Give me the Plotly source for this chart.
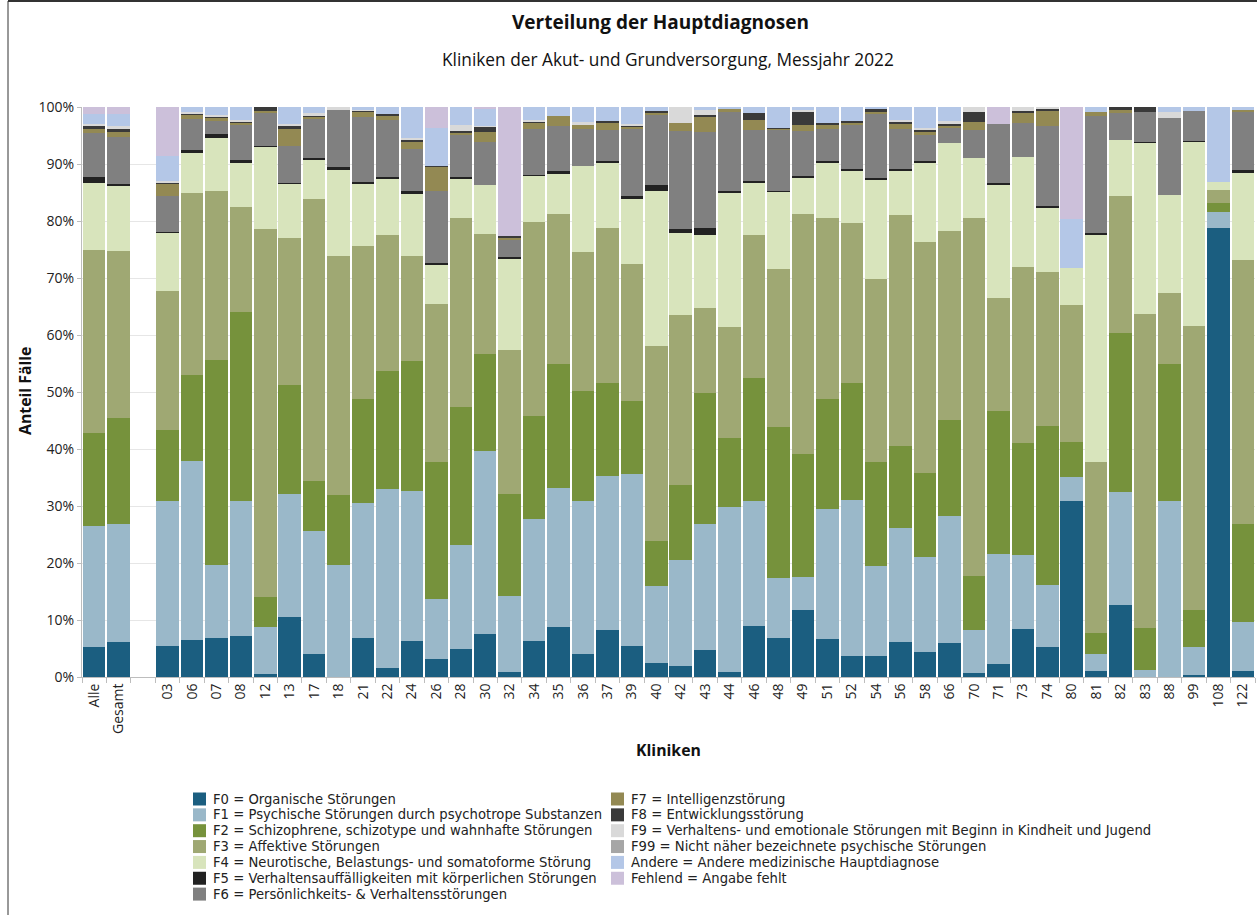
import plotly.graph_objects as go

kliniken = ["Alle", "Gesamt", " ", "03", "06", "07", "08", "12", "13", "17", "18", "21", "22", "24",
            "26", "28", "30", "32", "34", "35", "36", "37", "39", "40", "42", "43", "44", "46", "48",
            "49", "51", "52", "54", "56", "58", "66", "70", "71", "73", "74", "80", "81", "82", "83",
            "88", "99", "108", "122"]

f0 = [5.3, 6.1, None, 5.4, 6.5, 6.9, 7.2, 0.5, 10.6, 4.1, 0, 6.8, 1.6, 6.3, 3.2, 4.9, 7.6, 0.8, 6.4, 8.7, 4.0, 8.3, 5.4, 2.4,
      2.0, 4.8, 0.8, 8.9, 6.9, 11.7, 6.7, 3.6, 3.6, 6.1, 4.3, 6.0, 0.7, 2.2, 8.4, 5.2, 30.8, 1.0, 12.7, 0, 0, 0.3, 78.7, 1.1]
f1 = [21.2, 20.7, None, 25.5, 31.4, 12.7, 23.6, 8.3, 21.5, 21.5, 19.7, 23.7, 31.4, 26.4, 10.4, 18.3, 32.0, 13.4, 21.4, 24.4,
      26.8, 26.9, 30.2, 13.5, 18.5, 22.0, 29.1, 22.0, 10.4, 5.9, 22.7, 27.4, 15.9, 20.1, 16.8, 22.2, 7.6, 19.4, 13.0, 10.9,
      4.3, 3.1, 19.8, 1.3, 30.8, 4.9, 2.8, 8.5]
f2 = [16.3, 18.7, None, 12.4, 15.1, 36.0, 33.3, 5.3, 19.2, 8.7, 12.3, 18.2, 20.7, 22.8, 24.1, 24.1, 17.0, 17.9, 18.0, 21.8,
      19.4, 16.3, 12.9, 8.0, 13.2, 23.1, 12.1, 21.5, 26.6, 21.5, 19.3, 20.5, 18.2, 14.3, 14.7, 16.9, 9.5, 25.0, 19.6, 27.9,
      6.1, 3.6, 27.8, 7.3, 24.1, 6.5, 1.7, 17.2]
f3 = [32.2, 29.2, None, 24.5, 32.0, 29.6, 18.4, 64.5, 25.7, 49.5, 41.9, 26.9, 23.9, 18.4, 27.7, 33.2, 21.2, 25.2, 34.1, 26.4,
      24.4, 27.2, 23.9, 34.1, 29.8, 14.9, 19.4, 25.2, 27.6, 42.2, 31.9, 28.1, 32.1, 40.6, 40.5, 33.2, 62.8, 19.9, 30.9, 27.0,
      24.1, 30.0, 24.1, 55.1, 12.5, 49.8, 2.3, 46.4]
f4 = [11.7, 11.6, None, 10.1, 7.0, 9.4, 7.7, 14.4, 9.5, 7.0, 15.0, 10.9, 9.7, 11.0, 7.0, 7.0, 8.6, 16.1, 8.0, 7.0,
      15.0, 11.4, 11.5, 27.2, 14.4, 12.7, 23.5, 9.2, 13.7, 6.2, 9.7, 9.3, 17.5, 7.8, 14.0, 15.4, 10.4, 19.9, 19.3, 11.4,
      6.4, 39.9, 9.8, 30.0, 17.2, 32.4, 1.3, 15.3]
f5 = [1.0, 0.2, None, 0.2, 0.4, 0.6, 0.5, 0.2, 0.2, 0.2, 0.5, 0.4, 0.4, 0.3, 0.3, 0.3, 0, 0.3, 0.2, 0.4,
      0, 0.5, 0.4, 1.2, 0.7, 1.3, 0.4, 0.2, 0.1, 0.4, 0.2, 0.3, 0.3, 0.2, 0.3, 0, 0, 0.2, 0, 0.2,
      0, 0.3, 0, 0.2, 0, 0.2, 0, 0.4]
f6 = [7.7, 8.2, None, 6.2, 5.5, 2.4, 6.1, 5.9, 6.4, 7.0, 10.1, 11.3, 10.1, 7.4, 12.5, 7.3, 7.5, 3.0, 8.1, 7.9,
      6.6, 5.4, 11.9, 12.3, 17.2, 16.8, 13.8, 9.0, 10.7, 7.9, 5.7, 7.6, 11.1, 7.1, 4.5, 2.7, 5.0, 10.4, 6.0, 14.1,
      0, 20.6, 4.8, 5.2, 13.5, 5.2, 0, 10.3]
f7 = [0.9, 1.0, None, 2.2, 0.8, 0.6, 0.4, 0.2, 3.1, 0.3, 0, 1.0, 0.7, 1.3, 4.4, 0.4, 1.8, 0.3, 1.0, 1.9,
      0.6, 1.3, 0.3, 0.2, 1.4, 2.8, 0.7, 1.8, 0.3, 1.1, 0.8, 0.5, 0.4, 0.9, 0.5, 0.4, 1.3, 0, 1.7, 2.6,
      0, 0.6, 0.5, 0, 0, 0, 0, 0.3]
f8 = [0.3, 0.5, None, 0.3, 0.2, 0.2, 0.2, 0.7, 0.4, 0.1, 0, 0.2, 0.3, 0.4, 0.1, 0.3, 0.8, 0.4, 0.2, 0,
      0, 0.3, 0.2, 0.4, 0, 0.2, 0, 1.1, 0.1, 2.2, 0.2, 0.2, 0.7, 0.3, 0.4, 0.2, 1.8, 0, 0.4, 0.4,
      0, 0, 0.5, 0.9, 0, 0, 0, 0]
f9 = [0.4, 0.4, None, 0.2, 0.2, 0.2, 0.4, 0, 0.4, 0.5, 0.5, 0.1, 0, 0.2, 0, 1.0, 0.2, 0, 0.4, 0,
      0.6, 0, 0.4, 0, 2.8, 0.9, 0, 0, 0, 0.4, 0, 0, 0, 0.3, 0.3, 0.5, 0.9, 0, 0.7, 0.3,
      0, 0, 0, 0, 1.0, 0, 0, 0]
f99 = [0, 0, None] + [0] * 45
andere = [1.8, 2.1, None, 4.4, 0.9, 1.4, 2.2, 0, 3.0, 1.1, 0, 0.5, 1.2, 5.5, 6.7, 3.2, 2.9, 0, 2.2, 1.5,
          2.6, 2.4, 2.9, 0.7, 0, 0.5, 0.2, 1.1, 3.6, 0.5, 2.8, 2.5, 0.2, 2.3, 3.7, 2.5, 0, 0, 0, 0,
          8.7, 0.9, 0, 0, 0.9, 0.7, 13.2, 0.5]
fehlend = [1.2, 1.3, None, 8.6, 0, 0, 0, 0, 0, 0, 0, 0, 0, 0, 3.6, 0, 0.4, 22.6, 0, 0,
           0, 0, 0, 0, 0, 0, 0, 0, 0, 0, 0, 0, 0, 0, 0, 0, 0, 3.0, 0, 0,
           19.6, 0, 0, 0, 0, 0, 0, 0]

series_names = [
    "F0 = Organische Störungen",
    "F1 = Psychische Störungen durch psychotrope Substanzen",
    "F2 = Schizophrene, schizotype und wahnhafte Störungen",
    "F3 = Affektive Störungen",
    "F4 = Neurotische, Belastungs- und somatoforme Störung",
    "F5 = Verhaltensauffälligkeiten mit körperlichen Störungen",
    "F6 = Persönlichkeits- & Verhaltensstörungen",
    "F7 = Intelligenzstörung",
    "F8 = Entwicklungsstörung",
    "F9 = Verhaltens- und emotionale Störungen mit Beginn in Kindheit und Jugend",
    "F99 = Nicht näher bezeichnete psychische Störungen",
    "Andere = Andere medizinische Hauptdiagnose",
    "Fehlend = Angabe fehlt",
]
series_values = [f0, f1, f2, f3, f4, f5, f6, f7, f8, f9, f99, andere, fehlend]
series_colors = ["#1B5E80", "#9AB8C9", "#76923C", "#9FA873", "#D8E4BC", "#222222", "#808080",
                 "#938953", "#3A3A3A", "#D9D9D9", "#A6A6A6", "#B4C7E7", "#CCC0DA"]

FONT = "Open Sans"
LEGEND_FONT = "DejaVu Sans"

fig = go.Figure()
for name, vals, col in zip(series_names, series_values, series_colors):
    fig.add_trace(go.Bar(
        x=kliniken, y=vals, name=name,
        marker=dict(color=col, line=dict(width=0)),
        showlegend=False,
        hovertemplate="%{x}: %{y:.1f}%<extra>" + name + "</extra>",
    ))

W, H = 1257, 915
L, R, T, B = 82, 2, 107, 238
pw, ph = W - L - R, H - T - B


def px(xp):
    return (xp - L) / pw


def py(yp):
    return (H - B - yp) / ph


shapes = [
    dict(type="line", xref="paper", yref="paper", x0=px(8), x1=px(1257), y0=py(1), y1=py(1),
         line=dict(color="#333333", width=2)),
    dict(type="line", xref="paper", yref="paper", x0=px(8), x1=px(8), y0=py(1), y1=py(915),
         line=dict(color="#333333", width=1)),
]
annotations = [
    dict(text="<b>Verteilung der Hauptdiagnosen</b>", x=px(660), y=py(22), xref="paper", yref="paper",
         showarrow=False, font=dict(family=FONT, size=19, color="#111111"), xanchor="center", yanchor="middle"),
    dict(text="Kliniken der Akut- und Grundversorgung, Messjahr 2022", x=px(668), y=py(60), xref="paper",
         yref="paper", showarrow=False, font=dict(family=FONT, size=17.3, color="#111111"),
         xanchor="center", yanchor="middle"),
    dict(text="<b>Anteil Fälle</b>", x=px(25), y=py(391), xref="paper", yref="paper", textangle=-90,
         showarrow=False, font=dict(family=FONT, size=15.8, color="#111111"), xanchor="center", yanchor="middle"),
    dict(text="<b>Kliniken</b>", x=px(668), y=py(750), xref="paper", yref="paper",
         showarrow=False, font=dict(family=FONT, size=15.8, color="#111111"), xanchor="center", yanchor="middle"),
]
# legend: two columns of colour swatches with their labels, as in the reference
row_step = 15.85
for i, (name, col) in enumerate(zip(series_names, series_colors)):
    colx = 193 if i < 7 else 611
    row = i if i < 7 else i - 7
    yc = 799 + row * row_step
    shapes.append(dict(type="rect", xref="paper", yref="paper",
                       x0=px(colx), x1=px(colx + 13), y0=py(yc - 6.5), y1=py(yc + 6.5),
                       fillcolor=col, line=dict(width=0)))
    annotations.append(dict(text=name, x=px(colx + 18), y=py(yc), xref="paper", yref="paper",
                            showarrow=False, xanchor="left", yanchor="middle", height=15, valign="middle",
                            font=dict(family=LEGEND_FONT, size=13.2, color="#222222")))

fig.update_layout(
    width=W, height=H,
    margin=dict(l=L, r=R, t=T, b=B, autoexpand=False),
    paper_bgcolor="white", plot_bgcolor="white",
    barmode="stack", bargap=0.08,
    font=dict(family=FONT, color="#222222"),
    showlegend=False,
    xaxis=dict(
        type="category", categoryorder="array", categoryarray=kliniken,
        tickangle=-90, tickfont=dict(family=FONT, size=14, color="#222222"),
        showline=True, linecolor="#BDBDBD", linewidth=1,
        ticks="outside", tickson="boundaries", ticklen=5, tickcolor="#BDBDBD",
        showgrid=False, automargin=False,
    ),
    yaxis=dict(
        range=[0, 100], dtick=10, ticksuffix="%",
        tickfont=dict(family=FONT, size=14, color="#222222"),
        showgrid=True, gridcolor="#E6E6E6", gridwidth=1,
        showline=True, linecolor="#BDBDBD", linewidth=1,
        ticks="outside", ticklen=4, tickcolor="#BDBDBD",
        zeroline=False, automargin=False,
    ),
    annotations=annotations,
    shapes=shapes,
)

fig.write_html("out.html", config={"displayModeBar": False},
               post_script="document.body.style.margin='0';document.body.style.overflow='hidden';")
